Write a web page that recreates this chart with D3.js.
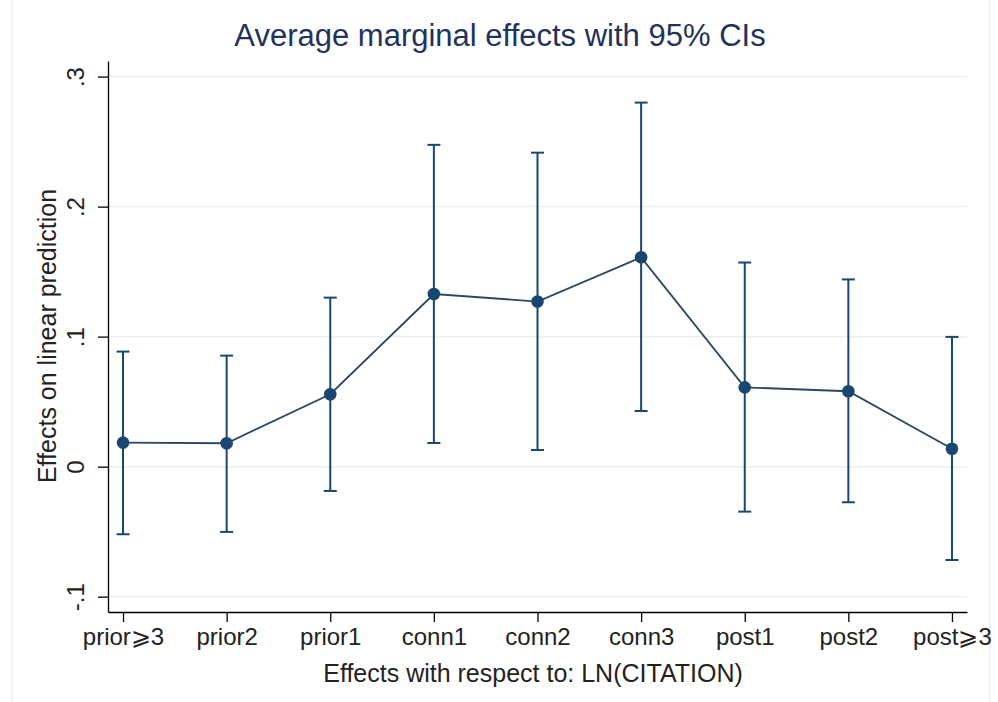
<!DOCTYPE html>
<html>
<head>
<meta charset="utf-8">
<script src="https://cdn.jsdelivr.net/npm/d3@7"></script>
<style>
    body { margin: 0; background: #fff; }
    svg { display: block; font-family: "Liberation Sans", Arial, sans-serif; }
</style>
</head>
<body>
<svg id="chart" width="998" height="702"></svg>
<script>
// values
const categories = ["prior\u2A7E3", "prior2", "prior1", "conn1", "conn2", "conn3", "post1", "post2", "post\u2A7E3"];
const effects = [0.0185, 0.018, 0.0557, 0.1328, 0.127, 0.161, 0.061, 0.058, 0.0138];
const ciLow = [-0.052, -0.0502, -0.0187, 0.0182, 0.0128, 0.0428, -0.0346, -0.0274, -0.0718];
const ciHigh = [0.0885, 0.0854, 0.130, 0.2475, 0.2415, 0.280, 0.157, 0.144, 0.0998];
const yTicks = [-0.1, 0, 0.1, 0.2, 0.3];
const yTickLabels = ["-.1", "0", ".1", ".2", ".3"];

const navy = "#1a476f";
const grid = "#e7eff1";

let svg = d3.select("#chart");

// faint outer frame
svg.append("line").attr("x1", 12).attr("x2", 12).attr("y1", 0).attr("y2", 702)
    .attr("stroke", "#e6eef0").attr("stroke-width", 1.5);
svg.append("line").attr("x1", 990).attr("x2", 990).attr("y1", 0).attr("y2", 702)
    .attr("stroke", "#e6eef0").attr("stroke-width", 1.5);

const plotLeft = 108, plotRight = 967, plotTop = 61, plotBottom = 612;

let x = d3.scalePoint()
    .domain(categories)
    .range([plotLeft, plotRight])
    .padding(0.145);

let y = d3.scaleLinear()
    .domain([-0.1118, 0.312])
    .range([plotBottom, plotTop]);

// gridlines
svg.append("g")
    .selectAll("line")
    .data(yTicks)
    .enter()
    .append("line")
    .attr("x1", plotLeft)
    .attr("x2", plotRight)
    .attr("y1", d => y(d))
    .attr("y2", d => y(d))
    .attr("stroke", grid)
    .attr("stroke-width", 1.5);

// y axis
let yAxis = svg.append("g")
    .attr("transform", `translate(${plotLeft},0)`)
    .call(d3.axisLeft(y)
        .tickValues(yTicks)
        .tickFormat((d, i) => yTickLabels[i])
        .tickSize(10)
        .tickSizeOuter(0));
yAxis.select(".domain").attr("stroke", "#000").attr("stroke-width", 1.3);
yAxis.selectAll(".tick line").attr("stroke", "#000").attr("stroke-width", 1.3);
yAxis.selectAll(".tick text")
    .attr("x", null).attr("dy", null)
    .attr("transform", "translate(-32,0) rotate(-90)")
    .attr("text-anchor", "middle")
    .attr("dy", "0.35em")
    .attr("fill", "#222")
    .style("font-size", "24px");

// x axis
let xAxis = svg.append("g")
    .attr("transform", `translate(0,${plotBottom})`)
    .call(d3.axisBottom(x)
        .tickSize(10)
        .tickSizeOuter(0));
xAxis.select(".domain").attr("stroke", "#000").attr("stroke-width", 1.3);
xAxis.selectAll(".tick line").attr("stroke", "#000").attr("stroke-width", 1.3);
xAxis.selectAll(".tick text")
    .attr("y", 33)
    .attr("dy", "0")
    .attr("fill", "#222")
    .style("font-size", "24px");

// axis titles
svg.append("text")
    .attr("x", 533)
    .attr("y", 682)
    .attr("text-anchor", "middle")
    .attr("fill", "#222")
    .style("font-size", "25px")
    .text("Effects with respect to: LN(CITATION)");

svg.append("text")
    .attr("transform", "translate(56,336) rotate(-90)")
    .attr("text-anchor", "middle")
    .attr("fill", "#222")
    .style("font-size", "25px")
    .text("Effects on linear prediction");

svg.append("text")
    .attr("x", 500)
    .attr("y", 46)
    .attr("text-anchor", "middle")
    .attr("fill", "#23325a")
    .style("font-size", "31px")
    .text("Average marginal effects with 95% CIs");

// error bars
let bars = svg.append("g")
    .selectAll("g")
    .data(categories)
    .enter()
    .append("g");

bars.append("line")
    .attr("x1", d => x(d)).attr("x2", d => x(d))
    .attr("y1", (d, i) => y(ciLow[i])).attr("y2", (d, i) => y(ciHigh[i]))
    .attr("stroke", navy).attr("stroke-width", 2);
bars.append("line")
    .attr("x1", d => x(d) - 6.5).attr("x2", d => x(d) + 6.5)
    .attr("y1", (d, i) => y(ciLow[i])).attr("y2", (d, i) => y(ciLow[i]))
    .attr("stroke", navy).attr("stroke-width", 2);
bars.append("line")
    .attr("x1", d => x(d) - 6.5).attr("x2", d => x(d) + 6.5)
    .attr("y1", (d, i) => y(ciHigh[i])).attr("y2", (d, i) => y(ciHigh[i]))
    .attr("stroke", navy).attr("stroke-width", 2);

// connecting line
let line = d3.line()
    .x(d => x(d))
    .y((d, i) => y(effects[i]));

svg.append("path")
    .datum(categories)
    .attr("d", line)
    .attr("fill", "none")
    .attr("stroke", "#2c4760")
    .attr("stroke-width", 1.8);

// points
svg.append("g")
    .selectAll("circle")
    .data(categories)
    .enter()
    .append("circle")
    .attr("cx", d => x(d))
    .attr("cy", (d, i) => y(effects[i]))
    .attr("r", 6.3)
    .attr("fill", navy);
</script>
</body>
</html>
